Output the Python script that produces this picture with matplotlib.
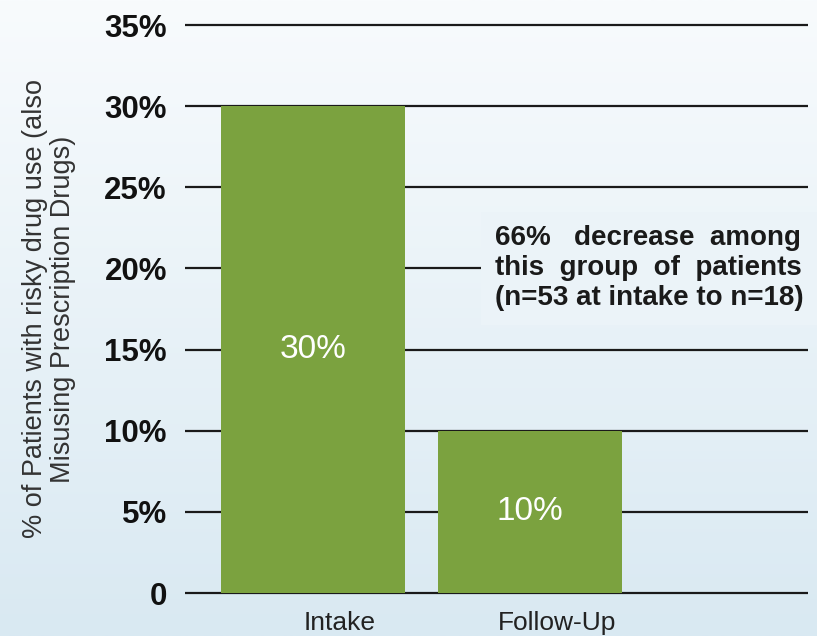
import numpy as np
import matplotlib
matplotlib.use('Agg')
import matplotlib.pyplot as plt
import matplotlib.transforms as mtransforms
from matplotlib.colors import LinearSegmentedColormap

categories = ['Intake', 'Follow-Up']
values = [30, 10]
bar_text = ['30%', '10%']
y_ticks = [0, 5, 10, 15, 20, 25, 30, 35]
y_tick_labels = ['0', '5%', '10%', '15%', '20%', '25%', '30%', '35%']
note = '66%   decrease  among\nthis  group  of  patients\n(n=53 at intake to n=18)'
y_label = '% of Patients with risky drug use (also\nMisusing Prescription Drugs)'

bar_color = '#7ba23f'
bg_top, bg_bottom = '#f8fbfd', '#d9e9f2'

plt.rcParams['font.family'] = ['Liberation Sans', 'DejaVu Sans']

fig = plt.figure(figsize=(8.17, 6.36), dpi=100)

# gradient background
bg_ax = fig.add_axes([0, 0, 1, 1], zorder=0)
grad = np.linspace(0, 1, 256).reshape(-1, 1)
cmap = LinearSegmentedColormap.from_list('bg', [bg_top, bg_bottom])
bg_ax.imshow(grad, aspect='auto', cmap=cmap, extent=[0, 1, 0, 1], origin='upper')
bg_ax.axis('off')

ax = fig.add_axes([0.2264, 0.0574, 0.7626, 0.9186], zorder=1)
ax.set_facecolor('none')

x = np.array([0, 1.18])
ax.bar(x, values, width=1.0, color=bar_color, zorder=2)
for xi, v, t in zip(x, values, bar_text):
    ax.text(xi, v / 2, t, ha='center', va='center', color='white',
            fontsize=24, zorder=3)

ax.set_xlim(-0.696, 2.690)
ax.set_ylim(-0.4, 35.6)
ax.set_yticks(y_ticks)
ax.set_yticklabels(y_tick_labels, fontsize=22.5, fontweight='bold', color='#111111')
ax.set_xticks(x)
ax.set_xticklabels(categories, fontsize=19, color='#222222')
ax.tick_params(axis='both', length=0)
ax.tick_params(axis='y', pad=13)
ax.tick_params(axis='x', pad=8)
offset = mtransforms.ScaledTranslation(0.27, 0, fig.dpi_scale_trans)
for lbl in ax.get_xticklabels():
    lbl.set_transform(lbl.get_transform() + offset)

ax.set_axisbelow(True)
ax.yaxis.grid(True, color='#1a1a1a', linewidth=1.6, zorder=1)
ax.xaxis.grid(False)
for s in ax.spines.values():
    s.set_visible(False)

# box colour taken from the background gradient at the note's height
note_y = 20
py = ax.transData.transform((0, note_y))[1]
box_color = cmap(1 - py / fig.bbox.height)

ax.text(0.99, note_y, note, ha='left', va='center', fontsize=20, fontweight='bold',
        color='#1a1a1a', linespacing=1.2, zorder=3,
        bbox=dict(boxstyle='square,pad=0.5', facecolor=box_color, edgecolor='none'))

fig.text(49 / 817, 1 - 309 / 636, y_label, rotation=90, ha='center', va='center',
         multialignment='center', fontsize=19.5, color='#333333', linespacing=1.1)

plt.savefig('out.png', dpi=100)
